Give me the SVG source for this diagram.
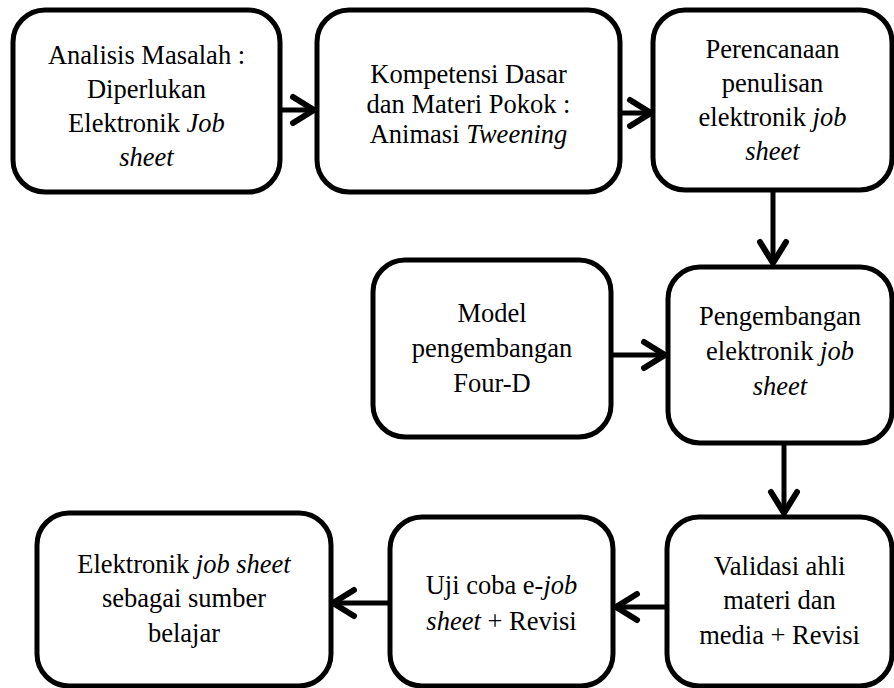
<svg xmlns="http://www.w3.org/2000/svg" width="894" height="688" viewBox="0 0 894 688" font-family="Liberation Serif, Times New Roman, serif">
<style>
.box{fill:#fff;stroke:#000;stroke-width:5}
.t{font-family:"Liberation Serif","Times New Roman",serif;font-size:26.5px;fill:#000;text-anchor:middle}
.i{font-style:italic}
.c{stroke:#000;stroke-width:5;fill:none}
</style>
<defs>
<marker id="ah" viewBox="-26 -16 30 32" refX="0" refY="0" markerWidth="30" markerHeight="32" markerUnits="userSpaceOnUse" orient="auto" overflow="visible">
<path d="M-21,-13 L0,0 L-21,13" fill="none" stroke="#000" stroke-width="6" stroke-linecap="round" stroke-linejoin="round"/>
</marker>
</defs>
<rect width="894" height="688" fill="#fff"/>
<g id="connectors">
<line class="c" x1="280" y1="110" x2="314" y2="110" marker-end="url(#ah)"/>
<line class="c" x1="620" y1="113" x2="651" y2="113" marker-end="url(#ah)"/>
<line class="c" x1="773" y1="190" x2="773" y2="263" marker-end="url(#ah)"/>
<line class="c" x1="611" y1="355" x2="665" y2="355" marker-end="url(#ah)"/>
<line class="c" x1="784" y1="443" x2="784" y2="513" marker-end="url(#ah)"/>
<line class="c" x1="667" y1="607" x2="616" y2="607" marker-end="url(#ah)"/>
<line class="c" x1="390" y1="603" x2="333" y2="603" marker-end="url(#ah)"/>
</g>
<g id="n1">
<rect class="box" x="13" y="10" width="267" height="182" rx="32"/>
<text class="t" x="146.5" y="64">Analisis Masalah :</text>
<text class="t" x="146.5" y="98">Diperlukan</text>
<text class="t" x="146.5" y="132">Elektronik <tspan class="i">Job</tspan></text>
<text class="t i" x="146.5" y="166">sheet</text>
</g>
<g id="n2">
<rect class="box" x="317" y="10" width="303" height="182" rx="32"/>
<text class="t" x="468.5" y="83">Kompetensi Dasar</text>
<text class="t" x="468.5" y="113">dan Materi Pokok :</text>
<text class="t" x="468.5" y="143">Animasi <tspan class="i">Tweening</tspan></text>
</g>
<g id="n3">
<rect class="box" x="653" y="10" width="239" height="180" rx="32"/>
<text class="t" x="772.5" y="58">Perencanaan</text>
<text class="t" x="772.5" y="92">penulisan</text>
<text class="t" x="772.5" y="126">elektronik <tspan class="i">job</tspan></text>
<text class="t i" x="772.5" y="160">sheet</text>
</g>
<g id="n4">
<rect class="box" x="373" y="260" width="238" height="177" rx="32"/>
<text class="t" x="492" y="322">Model</text>
<text class="t" x="492" y="357">pengembangan</text>
<text class="t" x="492" y="392">Four-D</text>
</g>
<g id="n5">
<rect class="box" x="668" y="267" width="224" height="176" rx="32"/>
<text class="t" x="780" y="325">Pengembangan</text>
<text class="t" x="780" y="360">elektronik <tspan class="i">job</tspan></text>
<text class="t i" x="780" y="395">sheet</text>
</g>
<g id="n6">
<rect class="box" x="667" y="517" width="225" height="169" rx="32"/>
<text class="t" x="779.5" y="575">Validasi ahli</text>
<text class="t" x="779.5" y="609">materi dan</text>
<text class="t" x="779.5" y="644">media + Revisi</text>
</g>
<g id="n7">
<rect class="box" x="390" y="517" width="223" height="169" rx="32"/>
<text class="t" x="501.5" y="594">Uji coba e-<tspan class="i">job</tspan></text>
<text class="t" x="501.5" y="630"><tspan class="i">sheet</tspan> + Revisi</text>
</g>
<g id="n8">
<rect class="box" x="37" y="513" width="294" height="173" rx="32"/>
<text class="t" x="184" y="573">Elektronik <tspan class="i">job sheet</tspan></text>
<text class="t" x="184" y="607">sebagai sumber</text>
<text class="t" x="184" y="642">belajar</text>
</g>
</svg>
